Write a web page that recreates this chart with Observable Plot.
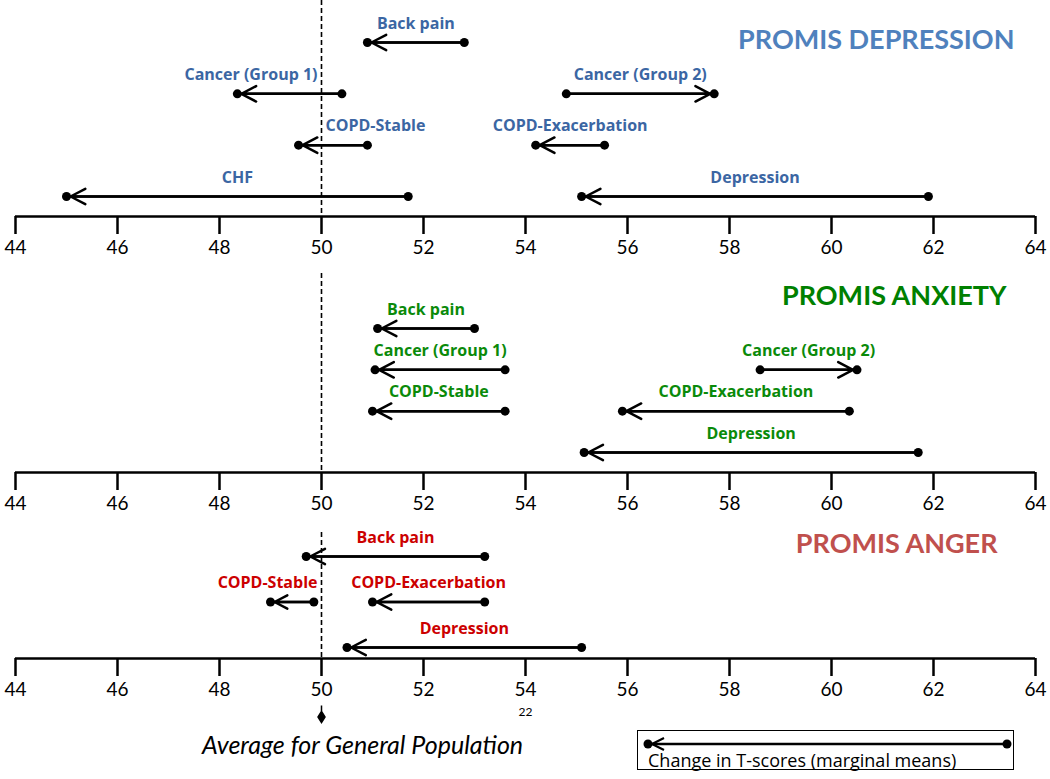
<!DOCTYPE html>
<html><head><meta charset="utf-8">
<script src="https://cdn.jsdelivr.net/npm/d3@7"></script>
<script src="https://cdn.jsdelivr.net/npm/@observablehq/plot@0.6"></script>
<style>
body{margin:0;background:#fff;font-family:Lato,"Open Sans",sans-serif}
#chart{position:relative;width:1050px;height:779px;overflow:hidden}
#chart > svg{display:block}
.legend{position:absolute;left:637px;top:730px;width:377px;height:40px;border:1.5px solid #000;box-sizing:border-box;background:#fff}
.legend svg{position:absolute;left:0;top:0}
</style></head><body><div id="chart"></div>
<script>
// ---------- data ----------
const xTicks = [44, 46, 48, 50, 52, 54, 56, 58, 60, 62, 64];
const generalPopulationMean = 50;

const depressionConditions = ["Back pain", "Cancer (Group 1)", "Cancer (Group 2)", "COPD-Stable", "COPD-Exacerbation", "CHF", "Depression"];
const depressionBaseline = [52.8, 50.4, 54.8, 50.9, 55.55, 51.7, 61.9];
const depressionFollowUp = [50.9, 48.35, 57.7, 49.55, 54.2, 45.0, 55.1];

const anxietyConditions = ["Back pain", "Cancer (Group 1)", "Cancer (Group 2)", "COPD-Stable", "COPD-Exacerbation", "Depression"];
const anxietyBaseline = [53.0, 53.6, 58.6, 53.6, 60.35, 61.7];
const anxietyFollowUp = [51.1, 51.05, 60.5, 51.0, 55.9, 55.15];

const angerConditions = ["Back pain", "COPD-Stable", "COPD-Exacerbation", "Depression"];
const angerBaseline = [53.2, 49.85, 53.2, 55.1];
const angerFollowUp = [49.7, 49.0, 51.0, 50.5];

// ---------- helpers ----------
const FONT = "Lato, 'Open Sans', sans-serif";
const LABEL_FONT = "'Open Sans', Lato, sans-serif";
const canvas = document.createElement("canvas");
const ctx2d = canvas.getContext("2d");
function measure(t, font) { ctx2d.font = font; return ctx2d.measureText(t).width; }
function groupOf(label) {
  if (label.startsWith("Back")) return 0;
  if (label.startsWith("Cancer")) return 1;
  if (label.startsWith("COPD")) return 2;
  return 3;
}
const W = 1050, ML = 15, MR = 15;
const xPx = d3.scaleLinear().domain([44, 64]).range([ML, W - MR]);

const pin = { draw(ctx) {
  ctx.moveTo(0, -11); ctx.lineTo(0, -5);
  ctx.moveTo(0, -5); ctx.lineTo(3.5, 0.5); ctx.lineTo(0, 6); ctx.lineTo(-3.5, 0.5); ctx.closePath();
}};

function panel(cfg) {
  const groups = cfg.labels.map(groupOf);
  const present = Array.from(new Set(groups)).sort((a, b) => a - b);
  const n = present.length;
  const labelFont = `bold 16px ${LABEL_FONT}`;
  const data = cfg.labels.map((label, i) => {
    const d = {label, start: cfg.start[i], end: cfg.end[i], row: present.indexOf(groups[i]) + 1};
    const mid = (d.start + d.end) / 2;
    const w = measure(label, labelFont);
    const c = xPx(mid), ref = xPx(generalPopulationMean);
    if (c - w / 2 < ref && c + w / 2 > ref) { d.lx = generalPopulationMean; d.anchor = mid < generalPopulationMean ? "end" : "start"; }
    else { d.lx = mid; d.anchor = "middle"; }
    return d;
  });
  const step = (cfg.lastRow - cfg.firstRow) / (n - 1);
  const rTop = 1 - (cfg.firstRow - cfg.marginTop) / step;
  const rBottom = n + (cfg.baseline - cfg.lastRow) / step;
  const textOpts = {x: "lx", y: "row", text: "label", dy: -19, fill: cfg.labelColor, fontWeight: "bold", fontSize: 16, fontFamily: LABEL_FONT};
  const marks = [
    Plot.ruleX([generalPopulationMean], {stroke: "#000", strokeWidth: 1.6, strokeDasharray: "5,3"}),
    Plot.ruleY([rBottom], {stroke: "#000", strokeWidth: 2.5}),
    Plot.axisX({ticks: xTicks, tickSize: 18, tickPadding: 6, strokeWidth: 2.5, fontSize: 19, tickFormat: d => String(d)}),
    Plot.link(data, {x1: "start", x2: "end", y1: "row", y2: "row", stroke: "#000", strokeWidth: 2.5}),
    Plot.arrow(data, {x1: "start", x2: "end", y1: "row", y2: "row", stroke: "#000", strokeWidth: 2.5, headLength: 10, headAngle: 55, insetEnd: 4}),
    Plot.dot(data, {x: "start", y: "row", r: 4.5, fill: "#000"}),
    Plot.dot(data, {x: "end", y: "row", r: 4.5, fill: "#000"}),
    Plot.text(data.filter(d => d.anchor === "middle"), {...textOpts, textAnchor: "middle"}),
    Plot.text(data.filter(d => d.anchor === "start"), {...textOpts, textAnchor: "start", dx: 4}),
    Plot.text(data.filter(d => d.anchor === "end"), {...textOpts, textAnchor: "end", dx: -4}),
    Plot.text([cfg.title], {frameAnchor: "top-right", textAnchor: "end", lineAnchor: "middle", dx: cfg.titleDx, dy: cfg.titleDy, fill: cfg.titleColor, fontWeight: "bold", fontSize: 27})
  ];
  if (cfg.extra) marks.push(...cfg.extra);
  return Plot.plot({
    width: W, height: cfg.height,
    marginLeft: ML, marginRight: MR, marginTop: cfg.marginTop, marginBottom: cfg.height - cfg.baseline,
    x: {domain: [44, 64]},
    y: {domain: [rBottom, rTop], axis: null},
    style: {fontFamily: FONT, fontSize: "19px", color: "#000", background: "transparent", overflow: "visible"},
    marks
  });
}

const chart = document.getElementById("chart");

chart.append(panel({
  labels: depressionConditions, start: depressionBaseline, end: depressionFollowUp,
  title: "PROMIS DEPRESSION", titleColor: "#4F81BD", labelColor: "#3B66A3",
  height: 262, marginTop: 0, baseline: 216, firstRow: 42, lastRow: 196, titleDx: -21, titleDy: 40
}));

chart.append(panel({
  labels: anxietyConditions, start: anxietyBaseline, end: anxietyFollowUp,
  title: "PROMIS ANXIETY", titleColor: "#008000", labelColor: "#0A8A0A",
  height: 258, marginTop: 11, baseline: 210, firstRow: 66, lastRow: 190, titleDx: -29, titleDy: 23
}));

chart.append(panel({
  labels: angerConditions, start: angerBaseline, end: angerFollowUp,
  title: "PROMIS ANGER", titleColor: "#C0504D", labelColor: "#CC0000",
  height: 259, marginTop: 12, baseline: 138, firstRow: 36, lastRow: 127, titleDx: -38, titleDy: 12,
  extra: [
    Plot.dot([generalPopulationMean], {x: d => d, frameAnchor: "bottom", dy: 58, symbol: pin, r: 5, fill: "#000", stroke: "#000", strokeWidth: 1.5}),
    Plot.text(["Average for General Population"], {x: () => generalPopulationMean, frameAnchor: "bottom", dx: 41, dy: 87, fontStyle: "italic", fontSize: 25, textAnchor: "middle", lineAnchor: "middle", fill: "#000"}),
    Plot.text(["22"], {x: () => 54, frameAnchor: "bottom", dy: 54, fontSize: 12, textAnchor: "middle", lineAnchor: "middle", fill: "#000"})
  ]
}));

// legend
const legend = document.createElement("div");
legend.className = "legend";
legend.innerHTML = `<svg width="377" height="40" viewBox="0 0 377 40">
  <line x1="369" y1="13" x2="10" y2="13" stroke="#000" stroke-width="2.5"/>
  <path d="M26,7 L14,13 L26,19" fill="none" stroke="#000" stroke-width="2.2"/>
  <circle cx="10" cy="13" r="4.5" fill="#000"/>
  <circle cx="369" cy="13" r="4.5" fill="#000"/>
  <text x="10" y="31" font-family="'Open Sans', Lato, sans-serif" font-size="18" fill="#000" dominant-baseline="middle">Change in T-scores (marginal means)</text>
</svg>`;
chart.append(legend);
</script>
</body></html>
